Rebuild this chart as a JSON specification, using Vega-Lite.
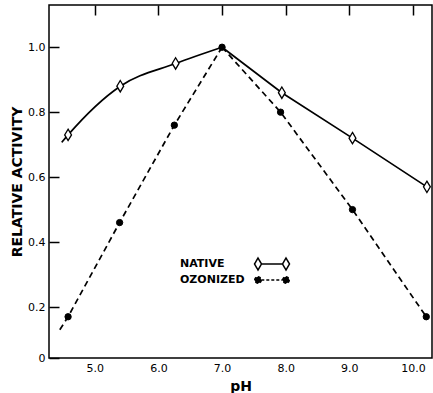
{
  "$schema": "https://vega.github.io/schema/vega-lite/v6.json",
  "width": 383,
  "height": 353,
  "autosize": {"type": "none"},
  "padding": {"left": 49, "top": 5, "right": 1, "bottom": 35},
  "background": "white",
  "config": {
    "font": "DejaVu Sans",
    "view": {"stroke": "black", "strokeWidth": 1.5},
    "axis": {
      "domain": false,
      "ticks": false,
      "grid": true,
      "gridColor": "black",
      "gridOpacity": 1,
      "gridWidth": 1.5,
      "gridDash": [10, 2000],
      "labelPadding": 4,
      "labelColor": "black",
      "labelFont": "DejaVu Sans",
      "labelFontSize": 11,
      "titleColor": "black",
      "titleFont": "DejaVu Sans",
      "titleFontSize": 14,
      "titleFontWeight": "bold"
    }
  },
  "datasets": {
    "measured": [
      {"series": "NATIVE", "pH": 4.58, "activity": 0.73},
      {"series": "NATIVE", "pH": 5.40, "activity": 0.88},
      {"series": "NATIVE", "pH": 6.27, "activity": 0.95},
      {"series": "NATIVE", "pH": 7.94, "activity": 0.86},
      {"series": "NATIVE", "pH": 9.05, "activity": 0.72},
      {"series": "NATIVE", "pH": 10.22, "activity": 0.57},
      {"series": "OZONIZED", "pH": 4.58, "activity": 0.17},
      {"series": "OZONIZED", "pH": 5.39, "activity": 0.46},
      {"series": "OZONIZED", "pH": 6.25, "activity": 0.76},
      {"series": "OZONIZED", "pH": 7.0, "activity": 1.0},
      {"series": "OZONIZED", "pH": 7.92, "activity": 0.80},
      {"series": "OZONIZED", "pH": 9.05, "activity": 0.50},
      {"series": "OZONIZED", "pH": 10.21, "activity": 0.17}
    ],
    "curves": [
      {"series": "NATIVE", "branch": "acid", "pH": 4.48, "activity": 0.707},
      {"series": "NATIVE", "branch": "acid", "pH": 4.58, "activity": 0.73},
      {"series": "NATIVE", "branch": "acid", "pH": 5.40, "activity": 0.88},
      {"series": "NATIVE", "branch": "acid", "pH": 6.27, "activity": 0.95},
      {"series": "NATIVE", "branch": "acid", "pH": 7.0, "activity": 1.0},
      {"series": "NATIVE", "branch": "alkaline", "pH": 7.0, "activity": 1.0},
      {"series": "NATIVE", "branch": "alkaline", "pH": 7.94, "activity": 0.86},
      {"series": "NATIVE", "branch": "alkaline", "pH": 9.05, "activity": 0.72},
      {"series": "NATIVE", "branch": "alkaline", "pH": 10.22, "activity": 0.57},
      {"series": "OZONIZED", "branch": "acid", "pH": 4.45, "activity": 0.13},
      {"series": "OZONIZED", "branch": "acid", "pH": 4.58, "activity": 0.17},
      {"series": "OZONIZED", "branch": "acid", "pH": 5.39, "activity": 0.46},
      {"series": "OZONIZED", "branch": "acid", "pH": 6.25, "activity": 0.76},
      {"series": "OZONIZED", "branch": "acid", "pH": 7.0, "activity": 1.0},
      {"series": "OZONIZED", "branch": "alkaline", "pH": 7.0, "activity": 1.0},
      {"series": "OZONIZED", "branch": "alkaline", "pH": 7.92, "activity": 0.80},
      {"series": "OZONIZED", "branch": "alkaline", "pH": 9.05, "activity": 0.50},
      {"series": "OZONIZED", "branch": "alkaline", "pH": 10.21, "activity": 0.17}
    ]
  },
  "layer": [
    {
      "data": {"name": "curves"},
      "transform": [{"filter": "datum.series === 'NATIVE' && datum.branch === 'acid'"}],
      "mark": {"type": "line", "interpolate": "monotone", "color": "black", "strokeWidth": 1.7},
      "encoding": {
        "x": {
          "field": "pH", "type": "quantitative",
          "scale": {"domain": [4.28, 10.3], "nice": false, "zero": false},
          "axis": {
            "orient": "bottom",
            "values": [5, 6, 7, 8, 9, 10],
            "format": ".1f",
            "title": "pH",
            "titlePadding": 6
          }
        },
        "y": {
          "field": "activity", "type": "quantitative",
          "scale": {"domain": [0.043, 1.13], "nice": false, "zero": false},
          "axis": {
            "orient": "left",
            "values": [0.043, 0.2, 0.4, 0.6, 0.8, 1.0],
            "labelExpr": "datum.value < 0.1 ? '0' : format(datum.value, '.1f')",
            "title": "RELATIVE ACTIVITY",
            "titlePadding": 3
          }
        }
      }
    },
    {
      "data": {"name": "curves"},
      "transform": [{"filter": "datum.series === 'NATIVE' && datum.branch === 'alkaline'"}],
      "mark": {"type": "line", "color": "black", "strokeWidth": 1.7},
      "encoding": {
        "x": {
          "field": "pH", "type": "quantitative",
          "axis": {
            "orient": "top",
            "values": [5, 6, 7, 8, 9, 10],
            "labels": false,
            "gridDash": [12, 2000],
            "title": null
          }
        },
        "y": {
          "field": "activity", "type": "quantitative",
          "axis": {
            "orient": "right",
            "values": [0.2, 0.4, 0.6, 0.8, 1.0],
            "labels": false,
            "title": null
          }
        }
      }
    },
    {
      "data": {"name": "curves"},
      "transform": [{"filter": "datum.series === 'OZONIZED'"}],
      "mark": {"type": "line", "color": "black", "strokeWidth": 1.7, "strokeDash": [6, 4]},
      "encoding": {
        "x": {"field": "pH", "type": "quantitative", "axis": null},
        "y": {"field": "activity", "type": "quantitative", "axis": null},
        "detail": {"field": "branch"}
      }
    },
    {
      "data": {"name": "measured"},
      "transform": [{"filter": "datum.series === 'NATIVE'"}],
      "mark": {"type": "point", "shape": "M0,-1L0.6,0L0,1L-0.6,0Z", "filled": true, "fill": "white", "stroke": "black", "strokeWidth": 1.3, "opacity": 1, "size": 130},
      "encoding": {
        "x": {"field": "pH", "type": "quantitative", "axis": null},
        "y": {"field": "activity", "type": "quantitative", "axis": null}
      }
    },
    {
      "data": {"name": "measured"},
      "transform": [{"filter": "datum.series === 'OZONIZED'"}],
      "mark": {"type": "point", "shape": "circle", "filled": true, "fill": "black", "stroke": "black", "strokeWidth": 1, "opacity": 1, "size": 40},
      "encoding": {
        "x": {"field": "pH", "type": "quantitative", "axis": null},
        "y": {"field": "activity", "type": "quantitative", "axis": null}
      }
    },
    {
      "description": "legend key: marker-line-marker glyph per series",
      "data": {"name": "measured"},
      "transform": [{"filter": "false"}],
      "mark": {"type": "point", "filled": true, "stroke": "black", "strokeWidth": 1.5, "opacity": 1},
      "encoding": {
        "x": {"field": "pH", "type": "quantitative", "axis": null},
        "y": {"field": "activity", "type": "quantitative", "axis": null},
        "shape": {
          "field": "series", "type": "nominal",
          "scale": {
            "domain": ["NATIVE", "OZONIZED"],
            "range": [
              "M-3.5,0L-2.8,-1.2L-2.1,0L-2.8,1.2Z M-2.1,0L2.1,0 M2.1,0L2.8,-1.2L3.5,0L2.8,1.2Z",
              "M-3.46,0A0.66,0.66 0 1,1 -2.14,0A0.66,0.66 0 1,1 -3.46,0Z M-2.14,0L2.14,0 M2.14,0A0.66,0.66 0 1,1 3.46,0A0.66,0.66 0 1,1 2.14,0Z"
            ]
          },
          "legend": {
            "title": null,
            "orient": "none",
            "legendX": 129,
            "legendY": 253,
            "padding": 0,
            "symbolSize": 100,
            "symbolOffset": 88,
            "symbolStrokeWidth": 1.5,
            "labelOffset": -98,
            "rowPadding": 0,
            "labelFont": "DejaVu Sans",
            "labelFontSize": 11,
            "labelFontWeight": "bold",
            "labelColor": "black"
          }
        },
        "fill": {
          "field": "series", "type": "nominal",
          "scale": {"domain": ["NATIVE", "OZONIZED"], "range": ["white", "black"]}
        },
        "stroke": {
          "field": "series", "type": "nominal",
          "scale": {"domain": ["NATIVE", "OZONIZED"], "range": ["black", "black"]}
        },
        "strokeDash": {
          "field": "series", "type": "nominal",
          "scale": {"domain": ["NATIVE", "OZONIZED"], "range": [[1, 0], [3, 2]]}
        }
      }
    }
  ],
  "resolve": {"axis": {"x": "independent", "y": "independent"}}
}
